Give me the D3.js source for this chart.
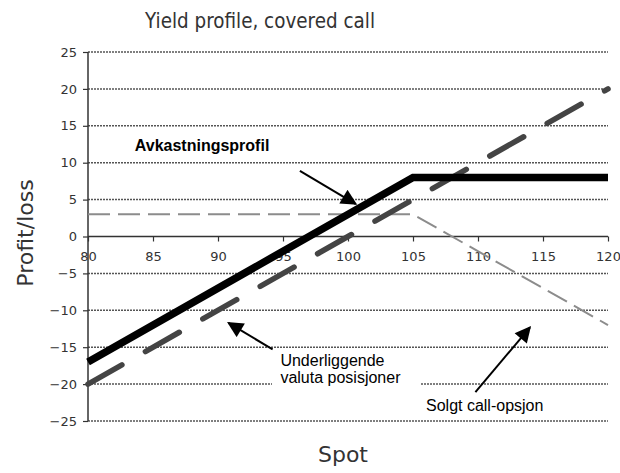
<!DOCTYPE html>
<html>
<head>
<meta charset="utf-8">
<script src="https://cdn.jsdelivr.net/npm/d3@7"></script>
<style>
  body { margin: 0; background: #fff; }
  svg { display: block; }
</style>
</head>
<body>
<div id="chart"></div>
<script>
// Data
var spotTicks = [80, 85, 90, 95, 100, 105, 110, 115, 120]
var profitTicks = [-25, -20, -15, -10, -5, 0, 5, 10, 15, 20, 25]

var profileSpot = [80, 105, 120]
var profileValue = [-17, 8, 8]

var underlyingSpot = [80, 120]
var underlyingValue = [-20, 20]

var callSpot = [80, 105, 120]
var callValue = [3, 3, -12]

var titleText = 'Yield profile, covered call'
var xLabel = 'Spot'
var yLabel = 'Profit/loss'

// Dimensions
var width = 620
var height = 473
var margin = { top: 52, right: 12, bottom: 52, left: 88 }

var xScale = d3.scaleLinear().domain([80, 120]).range([margin.left, width - margin.right])
var yScale = d3.scaleLinear().domain([-25, 25]).range([height - margin.bottom, margin.top])

var svg = d3.select('#chart').append('svg')
  .attr('width', width)
  .attr('height', height)
  .style('font-family', '"DejaVu Sans", sans-serif')

var defs = svg.append('defs')
defs.append('marker')
  .attr('id', 'head')
  .attr('viewBox', '0 0 10 10')
  .attr('refX', 9)
  .attr('refY', 5)
  .attr('markerWidth', 8.5)
  .attr('markerHeight', 8)
  .attr('markerUnits', 'strokeWidth')
  .attr('orient', 'auto')
  .append('path')
  .attr('d', 'M0,0 L10,5 L0,10 Z')
  .attr('fill', '#000')

function zip(xs, ys) {
  return xs.map(function (x, i) { return [x, ys[i]] })
}

var line = d3.line()
  .x(function (d) { return xScale(d[0]) })
  .y(function (d) { return yScale(d[1]) })

// Gridlines
svg.append('g').selectAll('line')
  .data(profitTicks.filter(function (d) { return d !== 0 }))
  .enter().append('line')
  .attr('x1', xScale(80))
  .attr('x2', xScale(120))
  .attr('y1', function (d) { return yScale(d) })
  .attr('y2', function (d) { return yScale(d) })
  .attr('stroke', '#555')
  .attr('stroke-width', 1.5)
  .attr('stroke-dasharray', '2,1')

// Label box covering the grid
svg.append('rect')
  .attr('x', 272).attr('y', 349).attr('width', 148).attr('height', 44)
  .attr('fill', '#fff')

// Y axis
var yAxis = d3.axisLeft(yScale).tickValues(profitTicks).tickSize(5).tickPadding(6)
var gy = svg.append('g')
  .attr('transform', 'translate(' + margin.left + ',0)')
  .call(yAxis)
gy.select('.domain').attr('stroke', '#333').attr('stroke-width', 1.5)
  .attr('d', 'M0,' + yScale(25) + 'V' + yScale(-25))
gy.selectAll('.tick line').attr('stroke', '#333').attr('stroke-width', 1.2)
gy.selectAll('.tick text')
  .attr('x', -11)
  .style('font-size', '13px')
  .style('font-family', '"DejaVu Sans", sans-serif')
  .attr('fill', '#333')

// X axis at zero
var xAxis = d3.axisBottom(xScale).tickValues(spotTicks).tickSize(5).tickPadding(10)
var gx = svg.append('g')
  .attr('transform', 'translate(0,' + yScale(0) + ')')
  .call(xAxis)
gx.select('.domain').attr('stroke', '#333').attr('stroke-width', 1.5)
  .attr('d', 'M' + xScale(80) + ',0H' + xScale(120))
gx.selectAll('.tick line').attr('stroke', '#333').attr('stroke-width', 1.2)
gx.selectAll('.tick text')
  .style('font-size', '13px')
  .style('font-family', '"DejaVu Sans", sans-serif')
  .attr('fill', '#333')

// Series
svg.append('path')
  .datum(zip(callSpot, callValue))
  .attr('d', line)
  .attr('fill', 'none')
  .attr('stroke', '#8c8c8c')
  .attr('stroke-width', 2)
  .attr('stroke-dasharray', '22,8')

svg.append('path')
  .datum(zip(underlyingSpot, underlyingValue))
  .attr('d', line)
  .attr('fill', 'none')
  .attr('stroke', '#444')
  .attr('stroke-width', 5.5)
  .attr('stroke-linecap', 'round')
  .attr('stroke-dasharray', '39,27')

svg.append('path')
  .datum(zip(profileSpot, profileValue))
  .attr('d', line)
  .attr('fill', 'none')
  .attr('stroke', '#000')
  .attr('stroke-width', 7.5)
  .attr('stroke-linejoin', 'miter')

// Annotations (in chart units)
var arrows = [
  { from: [96.3, 8.9], to: [100.6, 4.4] },
  { from: [94.2, -15.3], to: [90.8, -11.7] },
  { from: [109.8, -21.1], to: [114, -12.3] }
]
svg.append('g').selectAll('line')
  .data(arrows)
  .enter().append('line')
  .attr('x1', function (d) { return xScale(d.from[0]) })
  .attr('y1', function (d) { return yScale(d.from[1]) })
  .attr('x2', function (d) { return xScale(d.to[0]) })
  .attr('y2', function (d) { return yScale(d.to[1]) })
  .attr('stroke', '#000')
  .attr('stroke-width', 2)
  .attr('marker-end', 'url(#head)')

var notes = [
  { text: 'Avkastningsprofil', at: [83.6, 11.6], bold: true },
  { text: 'Underliggende', at: [94.8, -17.5] },
  { text: 'valuta posisjoner', at: [94.8, -19.9] },
  { text: 'Solgt call-opsjon', at: [106, -23.7] }
]
svg.append('g').selectAll('text')
  .data(notes)
  .enter().append('text')
  .attr('x', function (d) { return xScale(d.at[0]) })
  .attr('y', function (d) { return yScale(d.at[1]) })
  .style('font-family', '"Liberation Sans", Arial, sans-serif')
  .style('font-size', '16px')
  .style('font-weight', function (d) { return d.bold ? 'bold' : 'normal' })
  .attr('fill', '#000')
  .text(function (d) { return d.text })

// Titles
svg.append('text')
  .attr('x', 260)
  .attr('y', 28)
  .attr('text-anchor', 'middle')
  .attr('textLength', 230)
  .attr('lengthAdjust', 'spacingAndGlyphs')
  .style('font-size', '22px')
  .attr('fill', '#333')
  .text(titleText)

svg.append('text')
  .attr('transform', 'translate(33,233) rotate(-90)')
  .attr('text-anchor', 'middle')
  .style('font-size', '22px')
  .attr('fill', '#333')
  .text(yLabel)

svg.append('text')
  .attr('x', 343)
  .attr('y', 462)
  .attr('text-anchor', 'middle')
  .style('font-size', '22px')
  .attr('fill', '#333')
  .text(xLabel)
</script>
</body>
</html>
